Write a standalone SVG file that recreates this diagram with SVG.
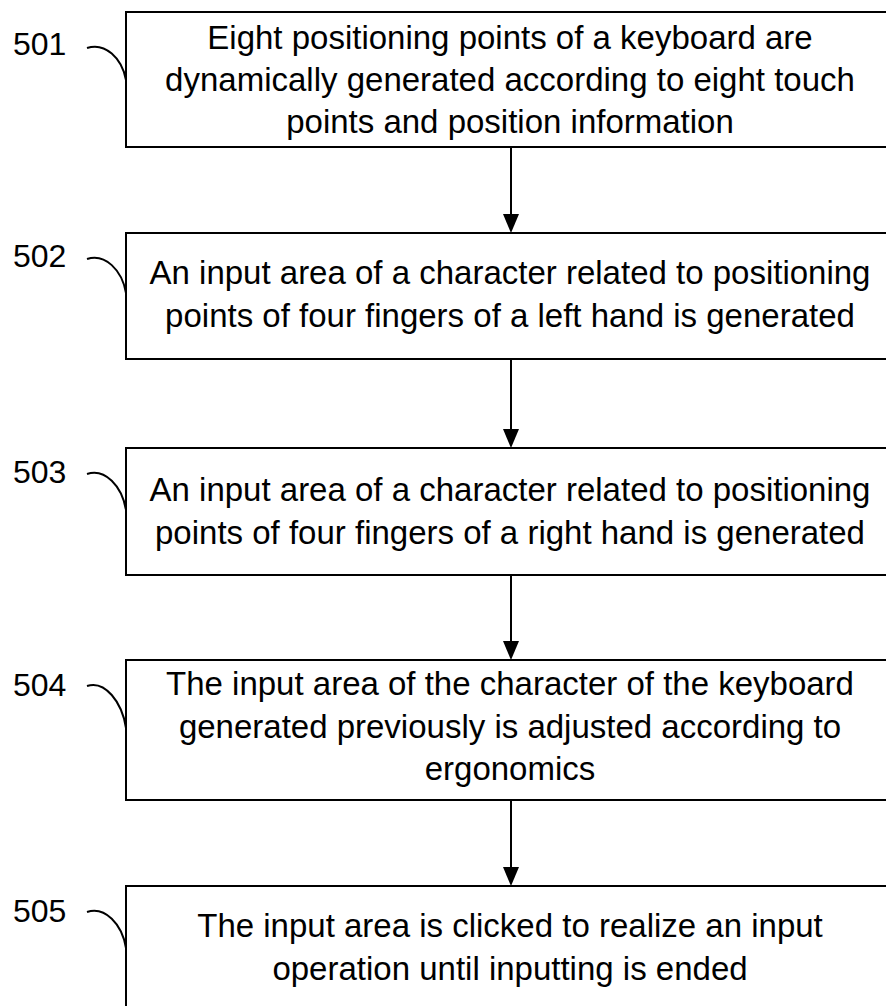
<svg xmlns="http://www.w3.org/2000/svg" width="886" height="1006" viewBox="0 0 886 1006">
<style>
.box{fill:#fff;stroke:#000;stroke-width:2}
.t{font-family:"Liberation Sans",Arial,sans-serif;font-size:33px;fill:#000;text-anchor:middle}
.lbl{font-family:"Liberation Sans",Arial,sans-serif;font-size:32px;fill:#000}
.lead{fill:none;stroke:#000;stroke-width:2}
.conn{stroke:#000;stroke-width:2}
.head{fill:#000}
</style>
<rect width="886" height="1006" fill="#fff"/>
<g id="connectors">
<line class="conn" x1="511" y1="147" x2="511" y2="218"/>
<polygon class="head" points="503,214 519,214 511,233"/>
<line class="conn" x1="511" y1="359" x2="511" y2="433"/>
<polygon class="head" points="503,429 519,429 511,448"/>
<line class="conn" x1="511" y1="575" x2="511" y2="645"/>
<polygon class="head" points="503,641 519,641 511,660"/>
<line class="conn" x1="511" y1="800" x2="511" y2="871"/>
<polygon class="head" points="503,867 519,867 511,886"/>
</g>
<g id="node501">
<rect class="box" x="126" y="12" width="768" height="135"/>
<text class="t" x="510" y="49">Eight positioning points of a keyboard are</text>
<text class="t" x="510" y="91">dynamically generated according to eight touch</text>
<text class="t" x="510" y="133">points and position information</text>
<text class="lbl" x="13" y="55">501</text>
<path class="lead" d="M87,48 C105,42 122,58 126,80"/>
</g>
<g id="node502">
<rect class="box" x="126" y="233" width="768" height="126"/>
<text class="t" x="510" y="284">An input area of a character related to positioning</text>
<text class="t" x="510" y="327">points of four fingers of a left hand is generated</text>
<text class="lbl" x="13" y="267">502</text>
<path class="lead" d="M87,259 C105,253 122,270 126,293"/>
</g>
<g id="node503">
<rect class="box" x="126" y="448" width="768" height="127"/>
<text class="t" x="510" y="501">An input area of a character related to positioning</text>
<text class="t" x="510" y="544">points of four fingers of a right hand is generated</text>
<text class="lbl" x="13" y="483">503</text>
<path class="lead" d="M87,474 C105,468 122,486 126,510"/>
</g>
<g id="node504">
<rect class="box" x="126" y="660" width="768" height="140"/>
<text class="t" x="510" y="695">The input area of the character of the keyboard</text>
<text class="t" x="510" y="738">generated previously is adjusted according to</text>
<text class="t" x="510" y="780">ergonomics</text>
<text class="lbl" x="13" y="696">504</text>
<path class="lead" d="M87,686 C105,680 122,702 126,728"/>
</g>
<g id="node505">
<rect class="box" x="126" y="886" width="768" height="140"/>
<text class="t" x="510" y="937">The input area is clicked to realize an input</text>
<text class="t" x="510" y="980">operation until inputting is ended</text>
<text class="lbl" x="13" y="922">505</text>
<path class="lead" d="M87,912 C105,906 122,924 126,948"/>
</g>
</svg>
